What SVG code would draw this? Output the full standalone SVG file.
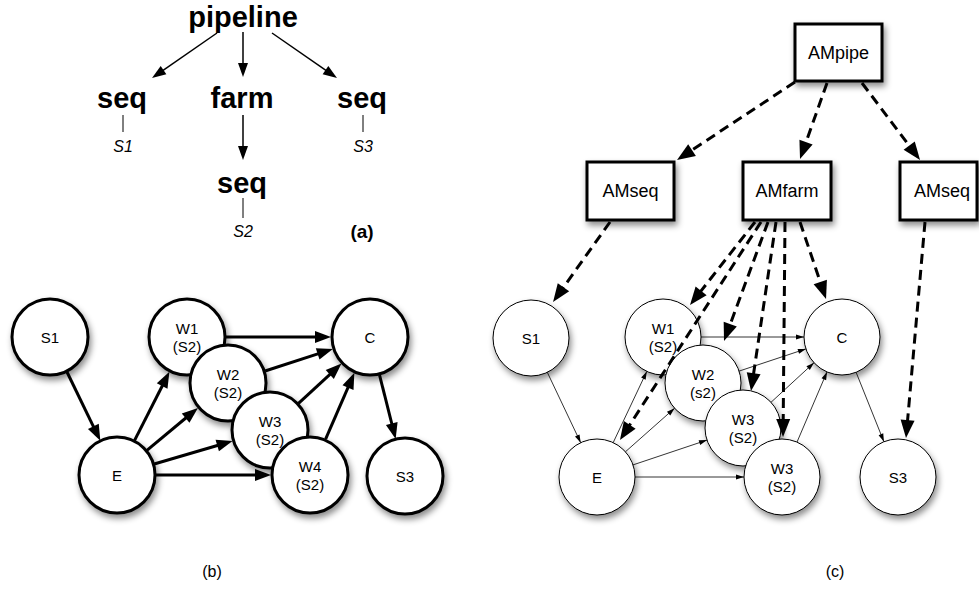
<svg xmlns="http://www.w3.org/2000/svg" width="979" height="591" viewBox="0 0 979 591">
<style>
text{font-family:"Liberation Sans",Arial,Helvetica,sans-serif;fill:#000}
.big{font-size:29px;font-weight:bold;text-anchor:middle}
.it{font-size:16px;font-style:italic;text-anchor:middle}
.lab{font-size:16px;text-anchor:middle}
.n{font-size:15px;text-anchor:middle}
.bx{font-size:18px;text-anchor:middle}
.cb{fill:#fff;stroke:#000;stroke-width:3;filter:url(#sh)}
.cc{fill:#fff;stroke:#000;stroke-width:1;filter:url(#sh)}
.box{fill:#fff;stroke:#000;stroke-width:3;filter:url(#sh)}
.ea{stroke:#000;stroke-width:1.5;fill:none;marker-end:url(#aa)}
.tick{stroke:#000;stroke-width:1;fill:none}
.eb{stroke:#000;stroke-width:3;fill:none;marker-end:url(#ab)}
.et{stroke:#000;stroke-width:0.8;fill:none;marker-end:url(#at)}
.ed{stroke:#000;stroke-width:3;fill:none;stroke-dasharray:10 6;marker-end:url(#ad)}
</style>
<defs>
<filter id="sh" x="-30%" y="-30%" width="160%" height="170%">
<feDropShadow dx="2" dy="4" stdDeviation="3" flood-color="#000" flood-opacity="0.45"/>
</filter>
<marker id="aa" markerUnits="userSpaceOnUse" markerWidth="14" markerHeight="10" refX="1" refY="5" orient="auto" overflow="visible"><path d="M0,0 L14,5 L0,10 z" fill="#000"/></marker>
<marker id="ab" markerUnits="userSpaceOnUse" markerWidth="16" markerHeight="12" refX="1" refY="6" orient="auto" overflow="visible"><path d="M0,0 L16,6 L0,12 z" fill="#000"/></marker>
<marker id="at" markerUnits="userSpaceOnUse" markerWidth="8" markerHeight="5" refX="8" refY="2.5" orient="auto" overflow="visible"><path d="M0,0 L8,2.5 L0,5 z" fill="#000"/></marker>
<marker id="ad" markerUnits="userSpaceOnUse" markerWidth="18" markerHeight="14" refX="1" refY="7" orient="auto" overflow="visible"><path d="M0,0 L18,7 L0,14 z" fill="#000"/></marker>
</defs>
<rect width="979" height="591" fill="#fff"/>

<!-- (a) tree -->
<g id="a-connectors">
<line class="ea" x1="217" y1="33" x2="162.7" y2="70.6"/>
<line class="ea" x1="243" y1="32" x2="243" y2="64"/>
<line class="ea" x1="272" y1="33" x2="326.3" y2="70.6"/>
<line class="ea" x1="243" y1="115" x2="243" y2="147"/>
<line class="tick" x1="123" y1="115" x2="123" y2="132"/>
<line class="tick" x1="363" y1="115" x2="363" y2="132"/>
<line class="tick" x1="243" y1="198" x2="243" y2="218"/>
</g>
<g id="a-pipeline"><text class="big" x="243" y="27">pipeline</text></g>
<g id="a-seq1"><text class="big" x="122" y="108">seq</text><text class="it" x="123" y="152">S1</text></g>
<g id="a-farm"><text class="big" x="242" y="108">farm</text></g>
<g id="a-seq3"><text class="big" x="362" y="108">seq</text><text class="it" x="363" y="152">S3</text></g>
<g id="a-seq2"><text class="big" x="242" y="193">seq</text><text class="it" x="243" y="237">S2</text></g>
<text x="362" y="238" style="font-size:19px;font-weight:bold;text-anchor:middle">(a)</text>

<!-- (b) graph -->
<g id="b-connectors">
<line class="eb" x1="67" y1="372" x2="93.8" y2="427.3"/>
<line class="eb" x1="134.2" y1="441.1" x2="162.6" y2="385.2"/>
<line class="eb" x1="146.3" y1="450.8" x2="186.4" y2="417.5"/>
<line class="eb" x1="153.4" y1="464.3" x2="218.2" y2="445.2"/>
<line class="eb" x1="155" y1="475" x2="256" y2="475"/>
<line class="eb" x1="226" y1="337" x2="316" y2="337"/>
<line class="eb" x1="265.1" y1="371" x2="318.6" y2="353.6"/>
<line class="eb" x1="298.5" y1="403.4" x2="330.5" y2="373.8"/>
<line class="eb" x1="325.6" y1="439.2" x2="348.4" y2="386.6"/>
<line class="eb" x1="379.5" y1="374.8" x2="392" y2="424.5"/>
</g>
<g id="b-S1"><circle class="cb" cx="50" cy="337" r="38"/><text class="n" x="50" y="343">S1</text></g>
<g id="b-E"><circle class="cb" cx="117" cy="475" r="38"/><text class="n" x="117" y="481">E</text></g>
<g id="b-W1"><circle class="cb" cx="187" cy="337" r="38"/><text class="n" x="187" y="334">W1</text><text class="n" x="187" y="352">(S2)</text></g>
<g id="b-W2"><circle class="cb" cx="228" cy="383" r="38"/><text class="n" x="228" y="380">W2</text><text class="n" x="228" y="398">(S2)</text></g>
<g id="b-W3"><circle class="cb" cx="270" cy="430" r="38"/><text class="n" x="270" y="427">W3</text><text class="n" x="270" y="445">(S2)</text></g>
<g id="b-W4"><circle class="cb" cx="310" cy="475" r="38"/><text class="n" x="310" y="472">W4</text><text class="n" x="310" y="490">(S2)</text></g>
<g id="b-C"><circle class="cb" cx="370" cy="337" r="38"/><text class="n" x="370" y="343">C</text></g>
<g id="b-S3"><circle class="cb" cx="405" cy="476" r="38"/><text class="n" x="405" y="482">S3</text></g>
<text class="lab" x="212" y="577">(b)</text>

<!-- (c) graph -->
<g id="c-connectors">
<line class="et" x1="547.3" y1="372.3" x2="580.7" y2="442.7"/>
<line class="et" x1="613.2" y1="442.6" x2="646.8" y2="371.4"/>
<line class="et" x1="625.4" y1="451.8" x2="674.6" y2="408.2"/>
<line class="et" x1="633" y1="464.9" x2="707" y2="440.1"/>
<line class="et" x1="635" y1="477" x2="744" y2="477"/>
<line class="et" x1="701" y1="337" x2="804" y2="337"/>
<line class="et" x1="739.1" y1="371.1" x2="805.9" y2="348.9"/>
<line class="et" x1="771" y1="402.3" x2="814" y2="362.7"/>
<line class="et" x1="797" y1="442.1" x2="827" y2="371.9"/>
<line class="et" x1="856.1" y1="372.3" x2="883.9" y2="441.7"/>
</g>
<g id="c-S1"><circle class="cc" cx="531" cy="338" r="38"/><text class="n" x="531" y="344">S1</text></g>
<g id="c-E"><circle class="cc" cx="597" cy="477" r="38"/><text class="n" x="597" y="483">E</text></g>
<g id="c-W1"><circle class="cc" cx="663" cy="337" r="38"/><text class="n" x="663" y="334">W1</text><text class="n" x="663" y="352">(S2)</text></g>
<g id="c-W2"><circle class="cc" cx="703" cy="383" r="38"/><text class="n" x="703" y="380">W2</text><text class="n" x="703" y="398">(s2)</text></g>
<g id="c-W3"><circle class="cc" cx="743" cy="428" r="38"/><text class="n" x="743" y="425">W3</text><text class="n" x="743" y="443">(S2)</text></g>
<g id="c-W3b"><circle class="cc" cx="782" cy="477" r="38"/><text class="n" x="782" y="474">W3</text><text class="n" x="782" y="492">(S2)</text></g>
<g id="c-C"><circle class="cc" cx="842" cy="337" r="38"/><text class="n" x="842" y="343">C</text></g>
<g id="c-S3"><circle class="cc" cx="898" cy="477" r="38"/><text class="n" x="898" y="483">S3</text></g>
<g id="c-AMpipe"><rect class="box" x="795" y="24" width="87" height="57"/><text class="bx" x="838.5" y="59">AMpipe</text></g>
<g id="c-AMseq1"><rect class="box" x="587" y="162" width="87" height="58"/><text class="bx" x="630.5" y="197">AMseq</text></g>
<g id="c-AMfarm"><rect class="box" x="743" y="162" width="88" height="58"/><text class="bx" x="787" y="197">AMfarm</text></g>
<g id="c-AMseq3"><rect class="box" x="900" y="162" width="77" height="58"/><text class="bx" x="942" y="197">AMseq</text></g>
<g id="c-am-connectors">
<line class="ed" x1="795" y1="82" x2="691.2" y2="150.6"/>
<line class="ed" x1="827" y1="83" x2="805.7" y2="143"/>
<line class="ed" x1="862" y1="83" x2="909.8" y2="146.4"/>
<line class="ed" x1="610" y1="222" x2="562.9" y2="288.1"/>
<line class="ed" x1="755" y1="222" x2="700.5" y2="291.6"/>
<line class="ed" x1="761" y1="222" x2="629.2" y2="425.7"/>
<line class="ed" x1="768" y1="222" x2="729.9" y2="325.1"/>
<line class="ed" x1="776" y1="222" x2="753.5" y2="374.2"/>
<line class="ed" x1="785" y1="222" x2="783.2" y2="420"/>
<line class="ed" x1="800" y1="222" x2="820.6" y2="282.9"/>
<line class="ed" x1="925" y1="222" x2="907.5" y2="421.1"/>
</g>
<text class="lab" x="835" y="577">(c)</text>
</svg>
